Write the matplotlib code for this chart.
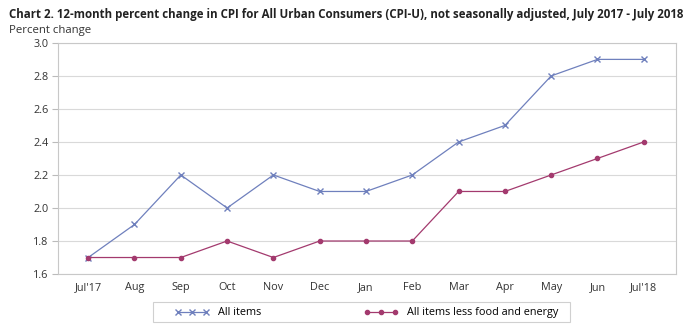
import matplotlib
matplotlib.use("Agg")
import matplotlib.pyplot as plt
from matplotlib.patches import Rectangle

plt.rcParams['font.family'] = ['Open Sans', 'DejaVu Sans']

months = ["Jul'17", "Aug", "Sep", "Oct", "Nov", "Dec", "Jan", "Feb",
          "Mar", "Apr", "May", "Jun", "Jul'18"]
all_items = [1.7, 1.9, 2.2, 2.0, 2.2, 2.1, 2.1, 2.2, 2.4, 2.5, 2.8, 2.9, 2.9]
core = [1.7, 1.7, 1.7, 1.8, 1.7, 1.8, 1.8, 1.8, 2.1, 2.1, 2.2, 2.3, 2.4]
yticks = [1.6, 1.8, 2.0, 2.2, 2.4, 2.6, 2.8, 3.0]

blue = '#6f80bd'
plum = '#a33a6e'

fig = plt.figure(figsize=(7, 3.35), dpi=100)
ax = fig.add_axes([0.083, 0.182, 0.883, 0.69])

x = list(range(len(months)))
ax.plot(x, all_items, color=blue, lw=0.9, marker='x', ms=4, mew=1.0, label='All items')
ax.plot(x, core, color=plum, lw=0.9, marker='o', ms=3, label='All items less food and energy')

ax.set_xlim(-0.65, 12.7)
ax.set_ylim(1.6, 3.0)
ax.set_xticks(x)
ax.set_xticklabels(months)
ax.set_yticks(yticks)
ax.set_yticklabels([f"{v:.1f}" for v in yticks])
ax.tick_params(axis='both', labelsize=7.8, colors='#333333', length=0, pad=6)
ax.tick_params(axis='y', length=4, color='#bbbbbb', pad=3)
ax.grid(axis='y', color='#d9d9d9', lw=0.8)
ax.set_axisbelow(True)
for s in ax.spines.values():
    s.set_color('#c8c8c8')
    s.set_linewidth(0.8)

fig.text(0.013, 0.945, "Chart 2. 12-month percent change in CPI for All Urban Consumers (CPI-U), not seasonally adjusted, July 2017 - July 2018",
         fontsize=8.3, fontweight='bold', color='#222222')
fig.text(0.013, 0.9, "Percent change", fontsize=8.2, color='#333333')

# legend box drawn separately so the entries sit inset like the original
fig.patches.append(Rectangle((0.2186, 0.0388), 0.5957, 0.0597, transform=fig.transFigure,
                             fill=False, edgecolor='#d0d0d0', lw=0.8))
leg = fig.legend(loc='center', bbox_to_anchor=(0.5236, 0.066), ncol=2, fontsize=7.8,
                 frameon=False, columnspacing=9.5,
                 handlelength=3.2, numpoints=3, borderpad=0, borderaxespad=0)

fig.savefig('out.png', dpi=100)
